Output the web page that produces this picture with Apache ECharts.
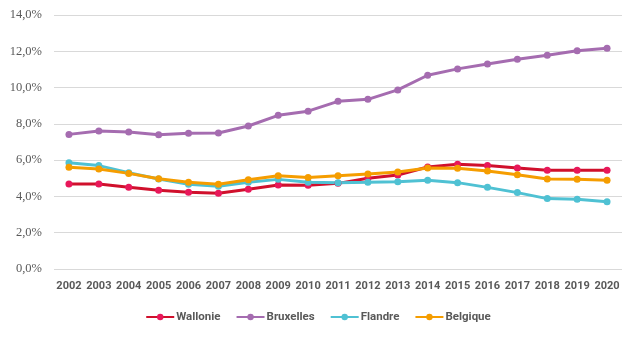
<!DOCTYPE html>
<html>
<head>
<meta charset="utf-8">
<script src="https://cdn.jsdelivr.net/npm/echarts@6/dist/echarts.min.js"></script>
<style>
html,body{margin:0;padding:0;background:#fff;}
#chart{width:636px;height:342px;}
</style>
</head>
<body>
<div id="chart"></div>
<script>
// Years on the category axis
const years = ['2002','2003','2004','2005','2006','2007','2008','2009','2010','2011','2012','2013','2014','2015','2016','2017','2018','2019','2020'];

// Shares per region, in percent
const wallonie  = [4.69, 4.69, 4.50, 4.34, 4.23, 4.17, 4.39, 4.63, 4.61, 4.72, 5.00, 5.18, 5.62, 5.77, 5.70, 5.57, 5.44, 5.44, 5.44];
const bruxelles = [7.42, 7.61, 7.55, 7.40, 7.48, 7.50, 7.88, 8.47, 8.70, 9.24, 9.35, 9.87, 10.68, 11.03, 11.30, 11.56, 11.78, 12.03, 12.17];
const flandre   = [5.86, 5.70, 5.31, 4.96, 4.67, 4.56, 4.78, 4.94, 4.78, 4.76, 4.78, 4.81, 4.89, 4.76, 4.50, 4.21, 3.88, 3.84, 3.71];
const belgique  = [5.61, 5.51, 5.27, 4.98, 4.78, 4.67, 4.92, 5.14, 5.05, 5.14, 5.24, 5.35, 5.57, 5.55, 5.40, 5.20, 4.96, 4.94, 4.89];

const yTicks = { min: 0, max: 14, step: 2 };

const sans = 'Roboto, "DejaVu Sans Condensed", sans-serif';
const serif = '"Liberation Serif", "DejaVu Serif", serif';
const textColor = '#595959';

function line(name, data, lineColor, dotColor) {
  return {
    name: name,
    type: 'line',
    data: data,
    symbol: 'circle',
    symbolSize: 7,
    showSymbol: true,
    lineStyle: { color: lineColor, width: 3 },
    itemStyle: { color: dotColor },
    emphasis: { disabled: true },
    animation: false
  };
}

const chart = echarts.init(document.getElementById('chart'));
chart.setOption({
  animation: false,
  grid: { left: 54, right: 14, top: 15, bottom: 73 },
  legend: {
    bottom: 14,
    left: 'center',
    itemWidth: 28,
    itemHeight: 8,
    itemGap: 15,
    textStyle: { color: textColor, fontFamily: sans, fontWeight: 'bold', fontSize: 11.5, padding: [0, 0, 0, -3] },
    data: ['Wallonie', 'Bruxelles', 'Flandre', 'Belgique']
  },
  xAxis: {
    type: 'category',
    data: years,
    boundaryGap: true,
    axisLine: { show: false },
    axisTick: { show: false },
    axisLabel: { color: textColor, fontFamily: sans, fontWeight: 'bold', fontSize: 11, margin: 12, interval: 0 }
  },
  yAxis: {
    type: 'value',
    min: yTicks.min,
    max: yTicks.max,
    interval: yTicks.step,
    axisLine: { show: false },
    axisTick: { show: false },
    splitLine: { lineStyle: { color: '#d9d9d9', width: 1 } },
    axisLabel: {
      color: textColor, fontFamily: serif, fontSize: 12.5, margin: 12,
      formatter: v => v.toFixed(1).replace('.', ',') + '%'
    }
  },
  series: [
    line('Wallonie', wallonie, '#d0102c', '#e8185a'),
    line('Bruxelles', bruxelles, '#a56cb0', '#a56cb0'),
    line('Flandre', flandre, '#4fc1d3', '#4fc1d3'),
    line('Belgique', belgique, '#f59d00', '#f59d00')
  ]
});
</script>
</body>
</html>
